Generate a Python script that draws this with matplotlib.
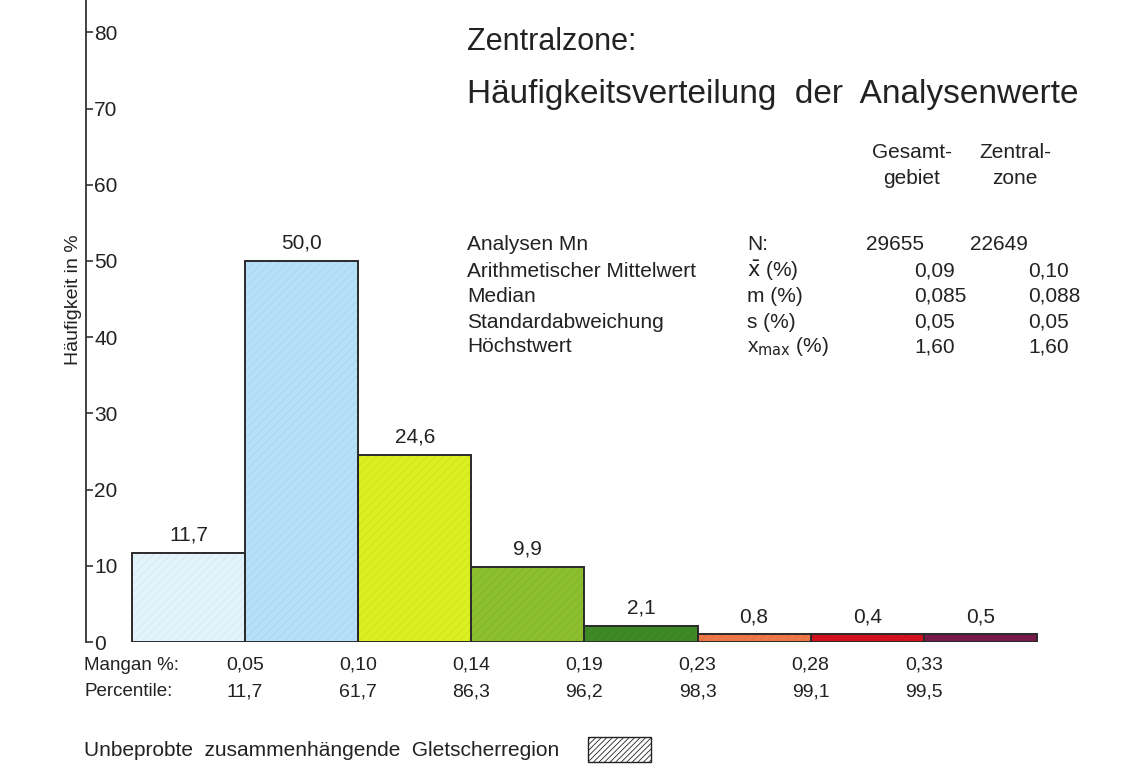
import matplotlib
matplotlib.use("Agg")
import matplotlib.pyplot as plt
from matplotlib.patches import Rectangle
import numpy as np

plt.rcParams['font.family'] = ['Liberation Sans', 'DejaVu Sans']
plt.rcParams['hatch.linewidth'] = 0.6

# ---------------- data ----------------
freq = [11.7, 50.0, 24.6, 9.9, 2.1, 0.8, 0.4, 0.5]
freq_labels = ["11,7", "50,0", "24,6", "9,9", "2,1", "0,8", "0,4", "0,5"]
bar_colors = ["#e3f3fb", "#b6e0f7", "#dcef20", "#8cbf30", "#3e8a26",
              "#ee7747", "#d3121d", "#7a1a4a"]
hatch_colors = ["#d3e9f4", "#a6d6f0", "#cfe318", "#82b22a", "#3a8224",
                "#e56e40", "#c80f1a", "#701643"]
mangan_ticks = ["0,05", "0,10", "0,14", "0,19", "0,23", "0,28", "0,33"]
percentiles = ["11,7", "61,7", "86,3", "96,2", "98,3", "99,1", "99,5"]
yticks = [0, 10, 20, 30, 40, 50, 60, 70, 80]

stat_names = ["Analysen Mn", "Arithmetischer Mittelwert", "Median",
              "Standardabweichung", "Höchstwert"]
stat_symbols = ["N:", r"$\bar{\mathrm{x}}$ (%)", "m (%)", "s (%)",
                r"x$_{\mathrm{max}}$ (%)"]
stat_gesamt = ["29655", "0,09", "0,085", "0,05", "1,60"]
stat_zentral = ["22649", "0,10", "0,088", "0,05", "1,60"]

# ---------------- figure ----------------
W, H = 1132, 781
fig = plt.figure(figsize=(W / 100, H / 100), dpi=100)
fig.patch.set_facecolor("white")

ax_left_px, ax_bottom_px = 86, 642
ax = fig.add_axes([ax_left_px / W, (H - ax_bottom_px) / H,
                   1 - ax_left_px / W, ax_bottom_px / H])
ax.set_facecolor("none")

bar_w_px = 113.1
first_bar_px = 132
ax.set_xlim(-(first_bar_px - ax_left_px) / bar_w_px,
            (W - first_bar_px) / bar_w_px)
ax.set_ylim(0, ax_bottom_px / 7.62)

x = np.arange(len(freq))
heights = np.maximum(freq, 1.0)   # tiny classes drawn with a minimum visible height

ax.bar(x, heights, width=1.0, align='edge', color=bar_colors,
       edgecolor=hatch_colors, hatch='////', linewidth=0, zorder=2)
ax.bar(x, heights, width=1.0, align='edge', color='none',
       edgecolor='#2a2a2a', linewidth=1.4, zorder=3)

for xi, h, lab in zip(x, heights, freq_labels):
    ax.annotate(lab, (xi + 0.5, h), xytext=(0, 6), textcoords='offset points',
                ha='center', va='bottom', fontsize=15, color='#222222')

# axes styling
for s in ['top', 'right', 'bottom']:
    ax.spines[s].set_visible(False)
ax.spines['left'].set_color('#333333')
ax.spines['left'].set_linewidth(1.3)
ax.set_xticks([])
ax.set_yticks(yticks)
ax.set_yticklabels([str(v) for v in yticks])
ax.tick_params(axis='y', direction='in', length=5, width=1.2, color='#333333',
               pad=-6, labelsize=15, labelcolor='#222222')
for lbl in ax.get_yticklabels():
    lbl.set_ha('left')

ax.set_ylabel("Häufigkeit in %", fontsize=14, color='#222222', labelpad=3)
ax.yaxis.set_label_coords(-0.004, (ax_bottom_px - 300) / ax_bottom_px)

# x-row labels under the bars
trans = ax.get_xaxis_transform()
y_mangan = -(665 - ax_bottom_px) / ax_bottom_px
y_perc = -(692 - ax_bottom_px) / ax_bottom_px
for i, (m, p) in enumerate(zip(mangan_ticks, percentiles)):
    ax.text(i + 1, y_mangan, m, transform=trans, ha='center', va='center',
            fontsize=14, color='#222222')
    ax.text(i + 1, y_perc, p, transform=trans, ha='center', va='center',
            fontsize=14, color='#222222')


def ftext(xp, yp, s, **kw):
    kw.setdefault('color', '#222222')
    fig.text(xp / W, 1 - yp / H, s, **kw)


ftext(84, 665, "Mangan %:", ha='left', va='center', fontsize=13.5)
ftext(84, 692, "Percentile:", ha='left', va='center', fontsize=13.5)

# titles
ftext(467, 42, "Zentralzone:", ha='left', va='center', fontsize=22)
ftext(467, 94, "Häufigkeitsverteilung  der  Analysenwerte", ha='left',
      va='center', fontsize=24)

# statistics table
ftext(912, 152, "Gesamt-", ha='center', va='center', fontsize=15)
ftext(912, 179, "gebiet", ha='center', va='center', fontsize=15)
ftext(1015, 152, "Zentral-", ha='center', va='center', fontsize=15)
ftext(1015, 179, "zone", ha='center', va='center', fontsize=15)

row_y = [245, 271, 296, 322, 347]
for i, yy in enumerate(row_y):
    ftext(467, yy, stat_names[i], ha='left', va='center', fontsize=15)
    ftext(747, yy, stat_symbols[i], ha='left', va='center', fontsize=15)
    if i == 0:
        ftext(866, yy, stat_gesamt[i], ha='left', va='center', fontsize=15)
        ftext(970, yy, stat_zentral[i], ha='left', va='center', fontsize=15)
    else:
        ftext(914, yy, stat_gesamt[i], ha='left', va='center', fontsize=15)
        ftext(1028, yy, stat_zentral[i], ha='left', va='center', fontsize=15)

# bottom legend
ftext(84, 750, "Unbeprobte  zusammenhängende  Gletscherregion", ha='left',
      va='center', fontsize=15)
leg = Rectangle((588 / W, 1 - 762 / H), 63 / W, 25 / H, transform=fig.transFigure,
                facecolor='white', edgecolor='#222222', hatch='//////',
                linewidth=1.0)
fig.patches.append(leg)

fig.savefig("out.png", dpi=100, facecolor='white')
